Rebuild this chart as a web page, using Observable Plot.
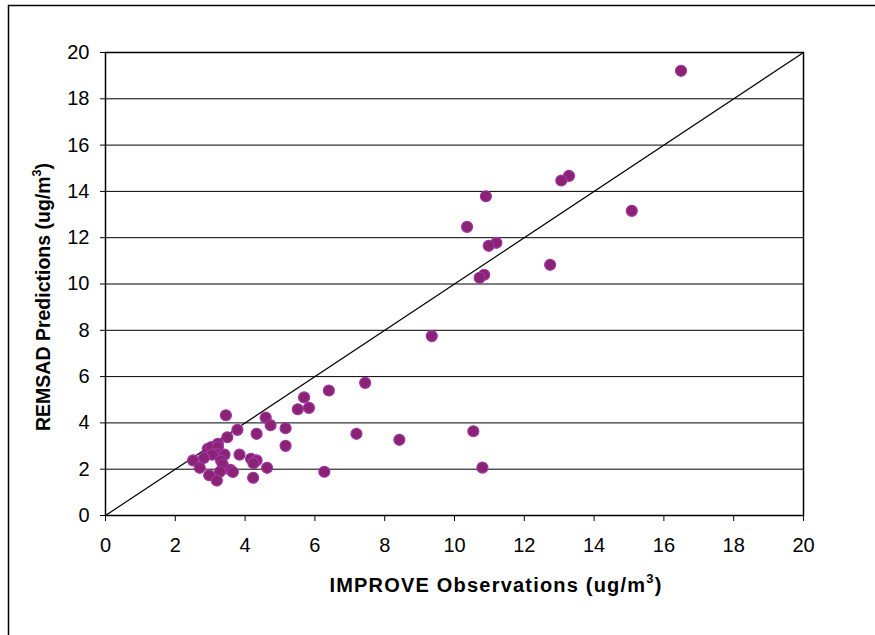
<!DOCTYPE html>
<html>
<head>
<meta charset="utf-8">
<script src="https://cdn.jsdelivr.net/npm/d3@7"></script>
<script src="https://cdn.jsdelivr.net/npm/@observablehq/plot@0.6"></script>
<style>
  html, body { margin: 0; padding: 0; background: #fff; }
  #chart { width: 875px; height: 635px; overflow: hidden; }
</style>
</head>
<body>
<div id="chart"></div>
<script>
// IMPROVE observations (x) and REMSAD predictions (y), ug/m3
const observed = [
  3.45, 3.78, 3.49, 2.93, 3.03, 3.22, 3.22, 3.20, 3.06, 2.82,
  2.51, 2.70, 3.41, 3.31, 3.36, 3.28, 2.97, 3.19, 3.58, 3.65,
  3.84, 4.17, 4.33, 4.24, 4.23, 4.63, 4.33, 4.59, 4.73, 5.16,
  5.16, 5.51, 5.69, 5.83, 6.40, 7.19, 6.27, 7.44, 9.35, 8.42,
  10.54, 10.80, 13.28, 13.06, 10.90, 10.36, 15.08, 11.20, 10.98, 12.74,
  10.85, 10.72, 16.49
];
const predicted = [
  4.33, 3.70, 3.38, 2.88, 2.95, 3.10, 2.95, 2.66, 2.63, 2.49,
  2.38, 2.06, 2.63, 2.38, 2.20, 1.89, 1.74, 1.51, 1.97, 1.88,
  2.63, 2.45, 2.38, 2.26, 1.63, 2.06, 3.53, 4.23, 3.90, 3.77,
  3.01, 4.59, 5.10, 4.65, 5.40, 3.53, 1.89, 5.73, 7.75, 3.27,
  3.64, 2.07, 14.67, 14.47, 13.79, 12.47, 13.16, 11.78, 11.65, 10.83,
  10.40, 10.27, 19.21
];
const axisTicks = [0, 2, 4, 6, 8, 10, 12, 14, 16, 18, 20];
const oneToOne = [0, 20];

const points = observed.map((x, i) => ({x, y: predicted[i]}));

const plot = Plot.plot({
  width: 875,
  height: 635,
  marginLeft: 105,
  marginRight: 72,
  marginTop: 52,
  marginBottom: 120,
  style: {fontFamily: "'Liberation Sans', Arial, sans-serif", fontSize: "20px", color: "black", background: "white"},
  x: {domain: [0, 20], ticks: axisTicks, tickSize: 6, tickPadding: 16, label: null},
  y: {domain: [0, 20], ticks: axisTicks, tickSize: 5, tickPadding: 11, label: null},
  marks: [
    Plot.ruleY(axisTicks, {stroke: "black", strokeWidth: 1}),
    Plot.frame({stroke: "black", strokeWidth: 1.5}),
    Plot.line(oneToOne, {x: d => d, y: d => d, stroke: "black", strokeWidth: 1.2}),
    Plot.dot(points, {x: "x", y: "y", r: 5.5, fill: "#8a2373", stroke: "#a235a6", strokeWidth: 1.2})
  ]
});

document.getElementById("chart").appendChild(plot);

const svg = d3.select(plot);
// outer border (left and top visible)
svg.append("rect")
  .attr("x", 8.5).attr("y", 5.5).attr("width", 900).attr("height", 700)
  .attr("fill", "none").attr("stroke", "black").attr("stroke-width", 1.5);

const xt = svg.append("text")
  .attr("x", 496).attr("y", 592)
  .attr("text-anchor", "middle")
  .attr("letter-spacing", "1.2px")
  .attr("font-family", "'Liberation Sans', Arial, sans-serif")
  .attr("font-size", 20).attr("font-weight", "bold").attr("fill", "black");
xt.append("tspan").text("IMPROVE Observations (ug/m");
xt.append("tspan").attr("font-size", 13).attr("dy", -9).text("3");
xt.append("tspan").attr("dy", 9).text(")");

const yt = svg.append("text")
  .attr("transform", "translate(50,297) rotate(-90)")
  .attr("text-anchor", "middle")
  .attr("font-family", "'Liberation Sans', Arial, sans-serif")
  .attr("font-size", 19.5).attr("font-weight", "bold").attr("fill", "black");
yt.append("tspan").text("REMSAD Predictions (ug/m");
yt.append("tspan").attr("font-size", 12.5).attr("dy", -9).text("3");
yt.append("tspan").attr("dy", 9).text(")");
</script>
</body>
</html>
